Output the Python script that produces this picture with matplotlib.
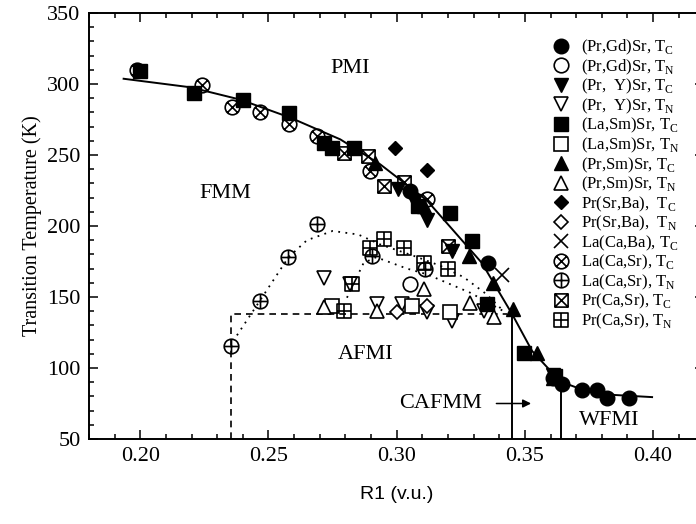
import matplotlib
matplotlib.use('Agg')
import matplotlib.pyplot as plt
from matplotlib.path import Path
from matplotlib.lines import Line2D
from matplotlib.ticker import MultipleLocator

plt.rcParams['font.family'] = 'Liberation Serif'
plt.rcParams['mathtext.fontset'] = 'custom'
plt.rcParams['mathtext.rm'] = 'Liberation Serif'

# ---------------------------------------------------------------------------
# Data
# ---------------------------------------------------------------------------
pgd_tc_x = [0.3053, 0.3358, 0.3611, 0.3644, 0.3722, 0.3781, 0.3820, 0.3904]
pgd_tc_y = [224.6, 174.2, 93.2, 89.0, 84.2, 84.2, 79.1, 79.1]
pgd_tn_x = [0.3053]
pgd_tn_y = [158.9]
py_tc_x = [0.3007, 0.3066, 0.3118, 0.3215, 0.3611]
py_tc_y = [225.8, 217.6, 204.0, 182.4, 95.0]
py_tn_x = [0.2715, 0.2818, 0.2923, 0.3020, 0.3118, 0.3215, 0.3340]
py_tn_y = [163.6, 159.0, 144.9, 144.9, 139.2, 133.1, 140.0]
lasm_tc_x = [0.2000, 0.2208, 0.2401, 0.2581, 0.2715, 0.2747, 0.2832, 0.3085,
             0.3209, 0.3294, 0.3352, 0.3495, 0.3618]
lasm_tc_y = [309.5, 294.0, 289.0, 279.5, 258.7, 255.1, 255.0, 214.0,
             209.4, 189.4, 144.9, 110.8, 94.4]
lasm_tn_x = [0.2747, 0.3059, 0.3209]
lasm_tn_y = [143.7, 143.7, 139.2]
psm_tc_x = [0.2917, 0.3105, 0.3281, 0.3375, 0.3453, 0.3547, 0.3611]
psm_tc_y = [244.6, 214.0, 178.9, 160.0, 141.3, 110.8, 93.0]
psm_tn_x = [0.2715, 0.2923, 0.3105, 0.3287, 0.3378]
psm_tn_y = [142.8, 140.1, 155.4, 146.0, 135.7]
psb_tc_x = [0.2995, 0.3118]
psb_tc_y = [255.1, 239.2]
psb_tn_x = [0.3001, 0.3118]
psb_tn_y = [139.2, 143.7]
lcb_tc_x = [0.3411]
lcb_tc_y = [165.5]
lcs_tc_x = [0.1987, 0.2241, 0.2358, 0.2468, 0.2581, 0.2689, 0.2897, 0.3118]
lcs_tc_y = [310.0, 299.3, 284.0, 280.3, 271.6, 263.4, 238.7, 218.8]
lcs_tn_x = [0.2354, 0.2465, 0.2578, 0.2689, 0.2904, 0.3111]
lcs_tn_y = [115.5, 146.9, 178.2, 201.6, 178.9, 170.0]
pcs_tc_x = [0.2793, 0.2890, 0.2952, 0.3030, 0.3202]
pcs_tc_y = [251.6, 249.3, 228.2, 231.2, 185.9]
pcs_tn_x = [0.2793, 0.2825, 0.2894, 0.2949, 0.3027, 0.3105, 0.3202]
pcs_tn_y = [140.1, 159.0, 184.7, 190.6, 184.7, 174.2, 169.5]

# guide lines
tc_line_x = [0.1935, 0.2195, 0.2390, 0.2585, 0.2780, 0.2936, 0.3118, 0.3332,
             0.3450, 0.3528, 0.3638, 0.3720, 0.3850, 0.3996]
tc_line_y = [303.7, 297.7, 289.0, 276.3, 261.0, 243.4, 218.0, 174.0,
             138.0, 112.0, 90.5, 85.0, 81.0, 79.5]
dot_a_x = [0.2377, 0.2465, 0.2578, 0.2650, 0.2750, 0.2850, 0.2936, 0.3066,
           0.3170, 0.3261, 0.3350, 0.3417]
dot_a_y = [123.0, 147.0, 178.0, 190.0, 196.5, 194.0, 187.0, 179.0,
           172.0, 164.0, 152.0, 140.0]
dot_b_x = [0.2806, 0.2871, 0.2920, 0.3040, 0.3118, 0.3287, 0.3417]
dot_b_y = [149.5, 174.0, 178.0, 170.0, 166.0, 153.0, 140.0]
dash_x = [0.2352, 0.2352, 0.3430]
dash_y = [50.0, 137.8, 137.8]
vline1_x = [0.3449, 0.3449]
vline1_y = [50.0, 140.0]
vline2_x = [0.3642, 0.3642]
vline2_y = [50.0, 90.0]

labels = [
    '(Pr,Gd)Sr, T$_{\\rm C}$', '(Pr,Gd)Sr, T$_{\\rm N}$',
    '(Pr,  Y)Sr, T$_{\\rm C}$', '(Pr,  Y)Sr, T$_{\\rm N}$',
    '(La,Sm)Sr, T$_{\\rm C}$', '(La,Sm)Sr, T$_{\\rm N}$',
    '(Pr,Sm)Sr, T$_{\\rm C}$', '(Pr,Sm)Sr, T$_{\\rm N}$',
    'Pr(Sr,Ba),  T$_{\\rm C}$', 'Pr(Sr,Ba),  T$_{\\rm N}$',
    'La(Ca,Ba), T$_{\\rm C}$', 'La(Ca,Sr), T$_{\\rm C}$',
    'La(Ca,Sr), T$_{\\rm N}$', 'Pr(Ca,Sr), T$_{\\rm C}$',
    'Pr(Ca,Sr), T$_{\\rm N}$',
]


def combo_marker(shape, cross):
    """Open circle / square with an x or + inside."""
    if shape == 'circle':
        outline = Path.unit_circle()
        d = 0.707 if cross == 'x' else 1.0
    else:
        outline = Path([(-1, -1), (1, -1), (1, 1), (-1, 1), (-1, -1)],
                       [Path.MOVETO, Path.LINETO, Path.LINETO, Path.LINETO,
                        Path.CLOSEPOLY])
        d = 1.0
    if cross == 'x':
        l1 = Path([(-d, -d), (d, d)], [Path.MOVETO, Path.LINETO])
        l2 = Path([(-d, d), (d, -d)], [Path.MOVETO, Path.LINETO])
    else:
        l1 = Path([(-d, 0), (d, 0)], [Path.MOVETO, Path.LINETO])
        l2 = Path([(0, -d), (0, d)], [Path.MOVETO, Path.LINETO])
    return Path.make_compound_path(outline, l1, l2)


circ_x = combo_marker('circle', 'x')
circ_p = combo_marker('circle', '+')
sq_x = combo_marker('square', 'x')
sq_p = combo_marker('square', '+')

ew = 1.2
styles = [
    dict(marker='o', ms=10.5, mfc='k', mec='k'),
    dict(marker='o', ms=10.5, mfc='white', mec='k', mew=ew),
    dict(marker='v', ms=10.5, mfc='k', mec='k'),
    dict(marker='v', ms=10.5, mfc='white', mec='k', mew=ew),
    dict(marker='s', ms=9.5, mfc='k', mec='k'),
    dict(marker='s', ms=9.5, mfc='white', mec='k', mew=ew),
    dict(marker='^', ms=10.5, mfc='k', mec='k'),
    dict(marker='^', ms=10.5, mfc='white', mec='k', mew=ew),
    dict(marker='D', ms=7.5, mfc='k', mec='k'),
    dict(marker='D', ms=7.5, mfc='white', mec='k', mew=ew),
    dict(marker='x', ms=10, mfc='k', mec='k', mew=ew),
    dict(marker=circ_x, ms=10.5, mfc='none', mec='k', mew=ew),
    dict(marker=circ_p, ms=10.5, mfc='none', mec='k', mew=ew),
    dict(marker=sq_x, ms=9.5, mfc='none', mec='k', mew=ew),
    dict(marker=sq_p, ms=9.5, mfc='none', mec='k', mew=ew),
]
series = [
    (pgd_tc_x, pgd_tc_y), (pgd_tn_x, pgd_tn_y),
    (py_tc_x, py_tc_y), (py_tn_x, py_tn_y),
    (lasm_tc_x, lasm_tc_y), (lasm_tn_x, lasm_tn_y),
    (psm_tc_x, psm_tc_y), (psm_tn_x, psm_tn_y),
    (psb_tc_x, psb_tc_y), (psb_tn_x, psb_tn_y),
    (lcb_tc_x, lcb_tc_y), (lcs_tc_x, lcs_tc_y), (lcs_tn_x, lcs_tn_y),
    (pcs_tc_x, pcs_tc_y), (pcs_tn_x, pcs_tn_y),
]

fig = plt.figure(figsize=(6.96, 5.24), dpi=100)
# axes runs past the right edge, as in the reference
ax = fig.add_axes([89 / 696, 85 / 524, 615.4 / 696, 426 / 524])

# lines first
ax.plot(tc_line_x, tc_line_y, '-', color='k', lw=1.4, zorder=2)
ax.plot(dot_a_x, dot_a_y, '-', color='k', lw=1.3, dashes=(1, 3), zorder=2)
ax.plot(dot_b_x, dot_b_y, '-', color='k', lw=1.3, dashes=(1, 3), zorder=2)
ax.plot(dash_x, dash_y, '--', color='k', lw=1.2, dashes=(4, 3), zorder=2)
ax.plot(vline1_x, vline1_y, '-', color='k', lw=1.4, zorder=2)
ax.plot(vline2_x, vline2_y, '-', color='k', lw=1.4, zorder=2)

handles = []
for (xs, ys), st in zip(series, styles):
    ax.plot(xs, ys, linestyle='none', zorder=3, **st)
    handles.append(Line2D([], [], linestyle='none', **st))

# region labels
ax.text(0.282, 311, 'PMI', fontsize=16, ha='center', va='center')
ax.text(0.233, 223, 'FMM', fontsize=16, ha='center', va='center')
ax.text(0.2878, 109.6, 'AFMI', fontsize=16, ha='center', va='center')
ax.text(0.317, 75, 'CAFMM', fontsize=16, ha='center', va='center')
ax.text(0.3827, 62.7, 'WFMI', fontsize=16, ha='center', va='center')
ax.annotate('', xy=(0.3535, 75), xytext=(0.3378, 75),
            arrowprops=dict(arrowstyle='-|>', color='k', lw=1.1,
                            mutation_scale=12))

ax.set_xlim(0.18, 0.42)
ax.set_ylim(50, 350)
ax.xaxis.set_major_locator(MultipleLocator(0.05))
ax.xaxis.set_minor_locator(MultipleLocator(0.01))
ax.yaxis.set_major_locator(MultipleLocator(50))
ax.yaxis.set_minor_locator(MultipleLocator(10))
ax.xaxis.set_major_formatter(matplotlib.ticker.FormatStrFormatter('%.2f'))
ax.tick_params(which='both', direction='in', top=True, right=True,
               labelsize=16, width=1.1)
ax.tick_params(which='major', length=6.5, pad=6)
ax.tick_params(which='minor', length=3.3)
for sp in ax.spines.values():
    sp.set_linewidth(1.4)

ax.set_ylabel('Transition Temperature (K)', fontsize=14.5, labelpad=4)
ax.set_xlabel('R1 (v.u.)', fontsize=14, family='Liberation Sans', labelpad=14)

ax.legend(handles, labels, loc='upper left', bbox_to_anchor=(553 / 696, 1 - 38 / 524),
          bbox_transform=fig.transFigure, frameon=False, fontsize=12,
          borderpad=0, borderaxespad=0, handlelength=1.0, handletextpad=0.7,
          labelspacing=0.02)

fig.savefig('out.png', dpi=100)
